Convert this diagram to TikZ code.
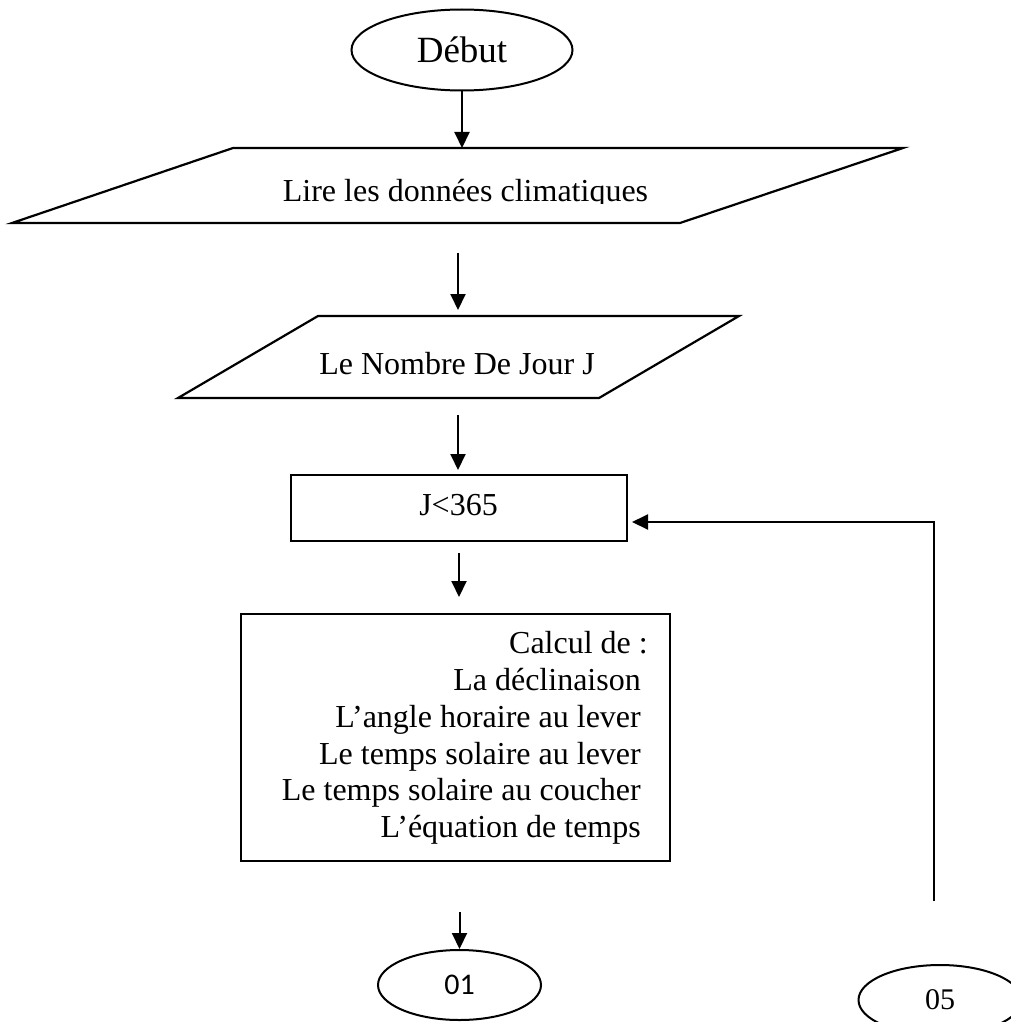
\documentclass[tikz,border=0pt]{standalone}
\usepackage{fontspec}
\setmainfont{Liberation Serif}
\newfontfamily\calfont{Carlito}
\usetikzlibrary{arrows.meta,shapes.geometric}
\begin{document}
\begin{tikzpicture}[x=1pt,y=-1pt,
  shp/.style={draw=black, line width=2.2pt},
  arr/.style={draw=black, line width=2pt, -{Triangle[length=16pt,width=15pt]}},
  txt/.style={inner sep=0pt, font=\fontsize{32}{36.8}\selectfont},
  oval/.style={draw=black, line width=2pt, ellipse, inner sep=0pt},
]
\useasboundingbox (0,0) rectangle (1011,1022);
\clip (0,0) rectangle (1011,1022);
\fill[white] (0,0) rectangle (1011,1022);

% Debut
\node[oval, minimum width=221pt, minimum height=81pt, font=\fontsize{37}{40}\selectfont] (deb) at (462,50) {Début};

% parallelogram 1
\coordinate (p1a) at (233,148);
\coordinate (p1b) at (903,148);
\coordinate (p1c) at (680,223);
\coordinate (p1d) at (12,223);
\draw[shp] (p1a) -- (p1b) -- (p1c) -- (p1d) -- cycle;
\begin{scope}
\clip (0,0) rectangle (1011,203);
\node[txt, anchor=base] (lire) at (465.5,201) {Lire les données climatiques};
\end{scope}

% parallelogram 2
\coordinate (p2a) at (318,316);
\coordinate (p2b) at (739,316);
\coordinate (p2c) at (599,398);
\coordinate (p2d) at (178,398);
\draw[shp] (p2a) -- (p2b) -- (p2c) -- (p2d) -- cycle;
\node[txt, anchor=base] (nombre) at (457,374) {Le Nombre De Jour J};

% J<365
\node[shp, minimum width=336pt, minimum height=66pt, inner sep=0pt] (jbox) at (459,508) {};
\node[txt, anchor=base] (jtxt) at (458.5,515) {J<365};

% Calcul box
\node[shp, minimum width=429pt, minimum height=247pt, inner sep=0pt] (calc) at (455.5,737.5) {};
\node[txt, anchor=base east] (l1) at (648,653) {Calcul de :};
\node[txt, anchor=base east] (l2) at (641,690) {La déclinaison};
\node[txt, anchor=base east] (l3) at (641,727) {L’angle horaire au lever};
\node[txt, anchor=base east] (l4) at (641,764) {Le temps solaire au lever};
\node[txt, anchor=base east] (l5) at (641,800.5) {Le temps solaire au coucher};
\node[txt, anchor=base east] (l6) at (641,837) {L’équation de temps};

% connectors 01 and 05
\node[oval, minimum width=163pt, minimum height=70pt, font=\calfont\fontsize{30}{32}\selectfont] (c01) at (459.5,985) {01};
\node[oval, minimum width=163pt, minimum height=70pt, font=\fontsize{30}{32}\selectfont] (c05) at (940,1000) {05};

% arrow endpoints
\coordinate (a2s) at (458,253);
\coordinate (a2e) at (458,310);
\coordinate (a3s) at (458,415);
\coordinate (a3e) at (458,470);
\coordinate (a4s) at (459,553);
\coordinate (a4e) at (459,597);
\coordinate (a5s) at (459.5,912);
\coordinate (rets) at (934,901);
\coordinate (rete) at (632,522);

\draw[arr] (deb.south) -- (deb.south |- p1a);
\draw[arr] (a2s) -- (a2e);
\draw[arr] (a3s) -- (a3e);
\draw[arr] (a4s) -- (a4e);
\draw[arr] (a5s) -- (c01.north);
\draw[arr] (rets) |- (rete);
\end{tikzpicture}
\end{document}
